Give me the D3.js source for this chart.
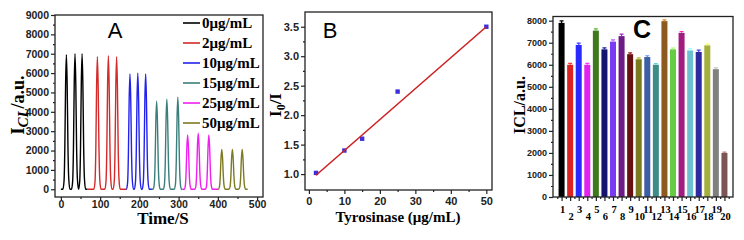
<!DOCTYPE html>
<html>
<head>
<meta charset="utf-8">
<script src="https://cdn.jsdelivr.net/npm/d3@7"></script>
<style>
  body { margin: 0; background: #fff; }
  svg { display: block; }
  .tick text { font-family: "Liberation Sans", Arial, sans-serif; font-weight: bold; }
  .domain { stroke: #222; }
</style>
</head>
<body>
<div id="chart"></div>
<script>
const width = 744
const height = 240

// ---- panel A data: CL peaks for each tyrosinase concentration
const seriesNames = ["0μg/mL", "2μg/mL", "10μg/mL", "15μg/mL", "25μg/mL", "50μg/mL"]
const seriesColors = ["#000000", "#d42a2a", "#2222ee", "#3b7f7c", "#f01ef0", "#7d7a22"]
const segmentRange = [[0, 68], [68, 168], [168, 232], [232, 310], [310, 402], [402, 476]]
const peakTimes = [[14, 36, 54], [93, 121, 142], [176, 196, 216], [244, 270, 298], [323, 350, 377], [410, 437, 462]]
const peakHeights = [[6950, 7000, 7000], [6850, 6900, 6850], [5950, 6000, 5950], [4550, 4650, 4750], [2800, 2900, 2800], [2050, 2050, 2050]]
// sampled shape of one injection peak (offset in s, fraction of peak height)
const peakShapeDt = [-9, -6, -4, -2, 0, 2, 4, 6, 9]
const peakShapeFrac = [0, 0.06, 0.3, 0.78, 1, 0.78, 0.32, 0.08, 0]

// ---- panel B data: calibration
const concB = [2, 10, 15, 25, 50]
const ratioB = [1.02, 1.40, 1.60, 2.40, 3.50]
const fitX = [2, 50]
const fitY = [0.98, 3.50]

// ---- panel C data: interference bars
const barLabels = d3.range(1, 21).map(String)
const barValues = [7900, 6000, 6900, 6000, 7550, 6700, 7050, 7300, 6480, 6250, 6350, 6000, 7980, 6700, 7450, 6650, 6580, 6880, 5800, 2000]
const barErrors = [90, 60, 80, 60, 80, 70, 80, 90, 60, 60, 60, 50, 60, 60, 60, 80, 80, 60, 60, 40]
const barColors = ["#000000", "#dd2222", "#2a2aff", "#e222ee", "#3e7a1c", "#141470", "#7a3cf2", "#6c1a84", "#661010", "#7a7a1e",
  "#3c5ea4", "#3d8c8a", "#8c5a1e", "#66cc44", "#a01c80", "#6cc0d0", "#2c2ca0", "#a4b03c", "#808080", "#7a5656"]

const serif = '"Liberation Serif", "Times New Roman", serif'
const sans = '"Liberation Sans", Arial, sans-serif'

const svg = d3.select("#chart").append("svg")
    .attr("width", width)
    .attr("height", height)

function frame(g, x0, x1, y0, y1) {
    g.append("rect")
        .attr("x", x0).attr("y", y0)
        .attr("width", x1 - x0).attr("height", y1 - y0)
        .attr("fill", "none").attr("stroke", "#222").attr("stroke-width", 1.3)
}

function styleAxis(sel, fs) {
    sel.selectAll(".domain").remove()
    sel.selectAll(".tick line").attr("stroke", "#222").attr("stroke-width", 1.2)
    sel.selectAll(".tick text").style("font-size", fs + "px").attr("fill", "#222")
}

// ================= A =================
const gA = svg.append("g").attr("id", "panelA")
const xA = d3.scaleLinear().domain([-15, 515]).range([55, 263])
const yA = d3.scaleLinear().domain([-400, 9000]).range([197, 15])

seriesNames.forEach((name, i) => {
    let pts = [[segmentRange[i][0], 0]]
    peakTimes[i].forEach((t, k) => {
        peakShapeDt.forEach((dt, j) => pts.push([t + dt, peakHeights[i][k] * peakShapeFrac[j]]))
    })
    pts.push([segmentRange[i][1], 0])
    gA.append("path")
        .attr("d", d3.line().x(d => xA(d[0])).y(d => yA(d[1])).curve(d3.curveMonotoneX)(pts))
        .attr("fill", "none")
        .attr("stroke", seriesColors[i])
        .attr("stroke-width", 1.4)
})

gA.append("g").attr("transform", "translate(55,0)")
    .call(d3.axisLeft(yA).tickValues(d3.range(500, 9000, 1000)).tickSize(2).tickFormat(""))
    .call(s => styleAxis(s, 10.5))
gA.append("g").attr("transform", "translate(55,0)")
    .call(d3.axisLeft(yA).tickValues(d3.range(0, 9001, 1000)).tickSize(4).tickPadding(2).tickFormat(d3.format("d")))
    .call(s => styleAxis(s, 10.5))
gA.append("g").attr("transform", "translate(0,197)")
    .call(d3.axisBottom(xA).tickValues(d3.range(50, 500, 100)).tickSize(2).tickFormat(""))
    .call(s => styleAxis(s, 10.5))
gA.append("g").attr("transform", "translate(0,197)")
    .call(d3.axisBottom(xA).tickValues(d3.range(0, 501, 100)).tickSize(3).tickPadding(1))
    .call(s => styleAxis(s, 10.5))
frame(gA, 55, 263, 15, 197)

// legend
let legA = gA.append("g")
seriesNames.forEach((name, i) => {
    let y = 23 + i * 20
    legA.append("line").attr("x1", 183).attr("x2", 200).attr("y1", y).attr("y2", y)
        .attr("stroke", seriesColors[i]).attr("stroke-width", 1.6)
    legA.append("text").attr("x", 202).attr("y", y + 5)
        .text(name)
        .style("font-family", serif).style("font-weight", "bold").style("font-size", "15px")
})

gA.append("text").attr("x", 115).attr("y", 38).attr("text-anchor", "middle")
    .text("A").style("font-family", sans).style("font-size", "22px")
gA.append("text").attr("x", 163).attr("y", 224).attr("text-anchor", "middle")
    .text("Time/S").style("font-family", serif).style("font-weight", "bold").style("font-size", "17px")
let ytA = gA.append("text").attr("transform", "translate(24,105) rotate(-90)").attr("text-anchor", "middle")
    .style("font-family", serif).style("font-weight", "bold").style("font-size", "18px")
ytA.append("tspan").text("I")
ytA.append("tspan").attr("dy", 4).style("font-style", "italic").style("font-size", "15px").text("CL")
ytA.append("tspan").attr("dy", -4).text("/a.u.")

// ================= B =================
const gB = svg.append("g").attr("id", "panelB")
const xB = d3.scaleLinear().domain([-1.1, 51.6]).range([305, 492])
const yB = d3.scaleLinear().domain([0.73, 3.75]).range([190, 12])

gB.append("g").attr("transform", "translate(305,0)")
    .call(d3.axisLeft(yB).tickValues(d3.range(1.25, 3.6, 0.5)).tickSize(2).tickFormat(""))
    .call(s => styleAxis(s, 11))
gB.append("g").attr("transform", "translate(305,0)")
    .call(d3.axisLeft(yB).tickValues(d3.range(1, 3.6, 0.5)).tickSize(4).tickPadding(2).tickFormat(d3.format(".1f")))
    .call(s => styleAxis(s, 11))
gB.append("g").attr("transform", "translate(0,190)")
    .call(d3.axisBottom(xB).tickValues(d3.range(5, 50, 10)).tickSize(2).tickFormat(""))
    .call(s => styleAxis(s, 11))
gB.append("g").attr("transform", "translate(0,190)")
    .call(d3.axisBottom(xB).tickValues(d3.range(0, 51, 10)).tickSize(4).tickPadding(3))
    .call(s => styleAxis(s, 11))
frame(gB, 305, 492, 12, 190)

gB.selectAll("rect.pt").data(concB).enter().append("rect").attr("class", "pt")
    .attr("x", d => xB(d) - 2.2)
    .attr("y", (d, i) => yB(ratioB[i]) - 2.2)
    .attr("width", 4.4).attr("height", 4.4)
    .attr("fill", "#3a2ee0")
gB.append("line")
    .attr("x1", xB(fitX[0])).attr("y1", yB(fitY[0]))
    .attr("x2", xB(fitX[1])).attr("y2", yB(fitY[1]))
    .attr("stroke", "#cc2222").attr("stroke-width", 1.6)

gB.append("text").attr("x", 330).attr("y", 38).attr("text-anchor", "middle")
    .text("B").style("font-family", sans).style("font-size", "22px")
gB.append("text").attr("x", 398).attr("y", 222).attr("text-anchor", "middle")
    .text("Tyrosinase (μg/mL)").style("font-family", serif).style("font-weight", "bold").style("font-size", "15px")
let ytB = gB.append("text").attr("transform", "translate(281,105) rotate(-90)").attr("text-anchor", "middle")
    .style("font-family", serif).style("font-weight", "bold").style("font-size", "17px")
ytB.append("tspan").text("I")
ytB.append("tspan").attr("dy", 4).style("font-size", "12px").text("0")
ytB.append("tspan").attr("dy", -4).text("/I")

// ================= C =================
const gC = svg.append("g").attr("id", "panelC")
const xC = d3.scaleLinear().domain([0, 21]).range([553, 733])
const yC = d3.scaleLinear().domain([0, 8190]).range([197, 16.5])
const barW = 6

gC.selectAll("rect.bar").data(barValues).enter().append("rect").attr("class", "bar")
    .attr("x", (d, i) => xC(i + 1) - barW / 2)
    .attr("y", d => yC(d))
    .attr("width", barW)
    .attr("height", d => yC(0) - yC(d))
    .attr("fill", (d, i) => barColors[i])
gC.selectAll("path.err").data(barValues).enter().append("path").attr("class", "err")
    .attr("d", (d, i) => {
        let x = xC(i + 1), t = yC(d + barErrors[i])
        return `M${x},${yC(d)}V${t}M${x - 2},${t}H${x + 2}`
    })
    .attr("stroke", (d, i) => d3.color(barColors[i]).brighter(1.2))
    .attr("stroke-width", 1.2).attr("fill", "none")

gC.append("g").attr("transform", "translate(553,0)")
    .call(d3.axisLeft(yC).tickValues(d3.range(500, 8000, 1000)).tickSize(2).tickFormat(""))
    .call(s => styleAxis(s, 9))
gC.append("g").attr("transform", "translate(553,0)")
    .call(d3.axisLeft(yC).tickValues(d3.range(0, 8001, 1000)).tickSize(4).tickPadding(2).tickFormat(d3.format("d")))
    .call(s => styleAxis(s, 9))
gC.append("g").attr("transform", "translate(0,197)")
    .call(d3.axisBottom(xC).tickValues(d3.range(0.5, 21, 1)).tickSize(2).tickFormat(""))
    .call(s => styleAxis(s, 9))
gC.append("g").attr("transform", "translate(0,197)")
    .call(d3.axisBottom(xC).tickValues(d3.range(1, 21)).tickSize(4).tickFormat(""))
    .call(s => styleAxis(s, 9))
frame(gC, 553, 733, 16.5, 197)

gC.selectAll("text.cat").data(barLabels).enter().append("text").attr("class", "cat")
    .attr("x", (d, i) => xC(i + 1) + 1)
    .attr("y", (d, i) => i % 2 === 0 ? 213 : 220)
    .attr("text-anchor", "middle")
    .text(d => d)
    .style("font-family", serif).style("font-weight", "bold").style("font-size", "10.5px")

gC.append("text").attr("x", 642).attr("y", 38).attr("text-anchor", "middle")
    .text("C").style("font-family", sans).style("font-weight", "bold").style("font-size", "25px")
gC.append("text").attr("transform", "translate(525,105) rotate(-90)").attr("text-anchor", "middle")
    .text("ICL/a.u.").style("font-family", serif).style("font-weight", "bold").style("font-size", "16px")
</script>
</body>
</html>
